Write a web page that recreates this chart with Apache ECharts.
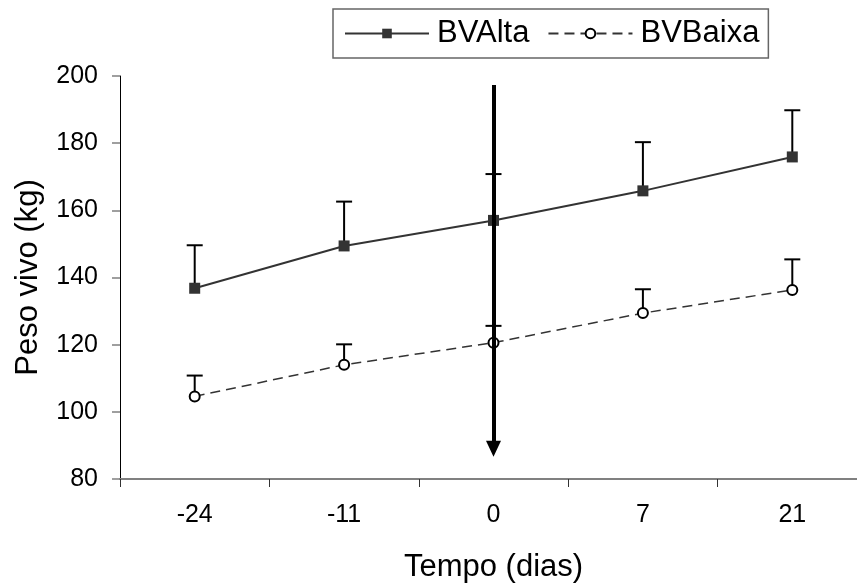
<!DOCTYPE html>
<html><head><meta charset="utf-8">
<script src="https://cdn.jsdelivr.net/npm/echarts@6/dist/echarts.min.js"></script>
<style>html,body{margin:0;padding:0;background:#fff;overflow:hidden;width:857px;height:588px}#c{width:872px;height:588px}</style>
</head><body><div id="c"></div>
<script>
const categories = ['-24', '-11', '0', '7', '21'];
const altaMean = [136.8, 149.4, 157.0, 165.8, 175.9];
const altaUpper = [149.6, 162.6, 170.8, 180.3, 189.8];
const baixaMean = [104.6, 114.0, 120.6, 129.4, 136.3];
const baixaUpper = [110.8, 120.1, 125.6, 136.5, 145.4];
const arrowFrom = 197.3;
const arrowTo = 89.0;
const yTicks = { min: 80, max: 200, interval: 20 };

const chart = echarts.init(document.getElementById('c'), null, { renderer: 'canvas' });
const FONT = 'Liberation Sans';

function errSeries(name, upper, mean) {
  return {
    type: 'custom', name: name + '_err', silent: true, z: 3,
    data: upper.map((u, i) => [i, mean[i], u]),
    renderItem: function (params, api) {
      const p0 = api.coord([api.value(0), api.value(1)]);
      const p1 = api.coord([api.value(0), api.value(2)]);
      const hw = 8;
      return { type: 'group', children: [
        { type: 'line', shape: { x1: p0[0], y1: p0[1], x2: p1[0], y2: p1[1] }, style: { stroke: '#000', lineWidth: 2 } },
        { type: 'line', shape: { x1: p1[0] - hw, y1: p1[1], x2: p1[0] + hw, y2: p1[1] }, style: { stroke: '#000', lineWidth: 2 } }
      ]};
    }
  };
}

chart.setOption({
  animation: false,
  backgroundColor: '#fff',
  textStyle: { fontFamily: FONT },
  grid: { left: 120, top: 76, width: 747, height: 406.5, containLabel: false },
  legend: {
    data: ['BVAlta', 'BVBaixa'],
    left: 333, top: 9,
    padding: [9, 9, 9, 11],
    borderColor: '#666', borderWidth: 1.5, borderRadius: 0,
    itemWidth: 84, itemHeight: 12, itemGap: 18,
    textStyle: { fontFamily: FONT, fontSize: 31, color: '#000', padding: [0, 0, 0, 3], lineHeight: 31 }
  },
  xAxis: {
    type: 'category', data: categories, boundaryGap: true,
    name: 'Tempo (dias)', nameLocation: 'middle', nameGap: 73,
    nameTextStyle: { fontFamily: FONT, fontSize: 31, color: '#000' },
    axisLine: { lineStyle: { color: '#808080', width: 2 } },
    axisTick: { show: true, length: 8, lineStyle: { color: '#333', width: 1 } },
    axisLabel: { fontFamily: FONT, fontSize: 25, color: '#000', margin: 24 },
    splitLine: { show: false }
  },
  yAxis: {
    type: 'value', min: yTicks.min, max: yTicks.max, interval: yTicks.interval,
    name: 'Peso vivo (kg)', nameLocation: 'middle', nameGap: 76,
    nameTextStyle: { fontFamily: FONT, fontSize: 31, color: '#000' },
    axisLine: { show: true, lineStyle: { color: '#000', width: 1 } },
    axisTick: { show: true, length: 8, lineStyle: { color: '#808080', width: 1.5 } },
    axisLabel: { fontFamily: FONT, fontSize: 25, color: '#000', margin: 22 },
    splitLine: { show: false }
  },
  series: [
    errSeries('BVAlta', altaUpper, altaMean),
    errSeries('BVBaixa', baixaUpper, baixaMean),
    {
      name: 'BVAlta', type: 'line', data: altaMean, z: 4,
      symbol: 'rect', symbolSize: 11,
      itemStyle: { color: '#333', borderWidth: 0 },
      lineStyle: { color: '#333', width: 2 }
    },
    {
      name: 'BVBaixa', type: 'line', data: baixaMean, z: 4,
      symbol: 'circle', symbolSize: 10,
      itemStyle: { color: '#fff', borderColor: '#000', borderWidth: 2 },
      lineStyle: { color: '#333', width: 1.5, type: [10, 6] },
      markLine: {
        silent: true, symbol: ['none', 'triangle'], symbolSize: [15, 16],
        label: { show: false },
        lineStyle: { color: '#000', width: 4, type: 'solid' },
        data: [[{ coord: [2, arrowFrom] }, { coord: [2, arrowTo] }]]
      }
    }
  ]
});
</script></body></html>
